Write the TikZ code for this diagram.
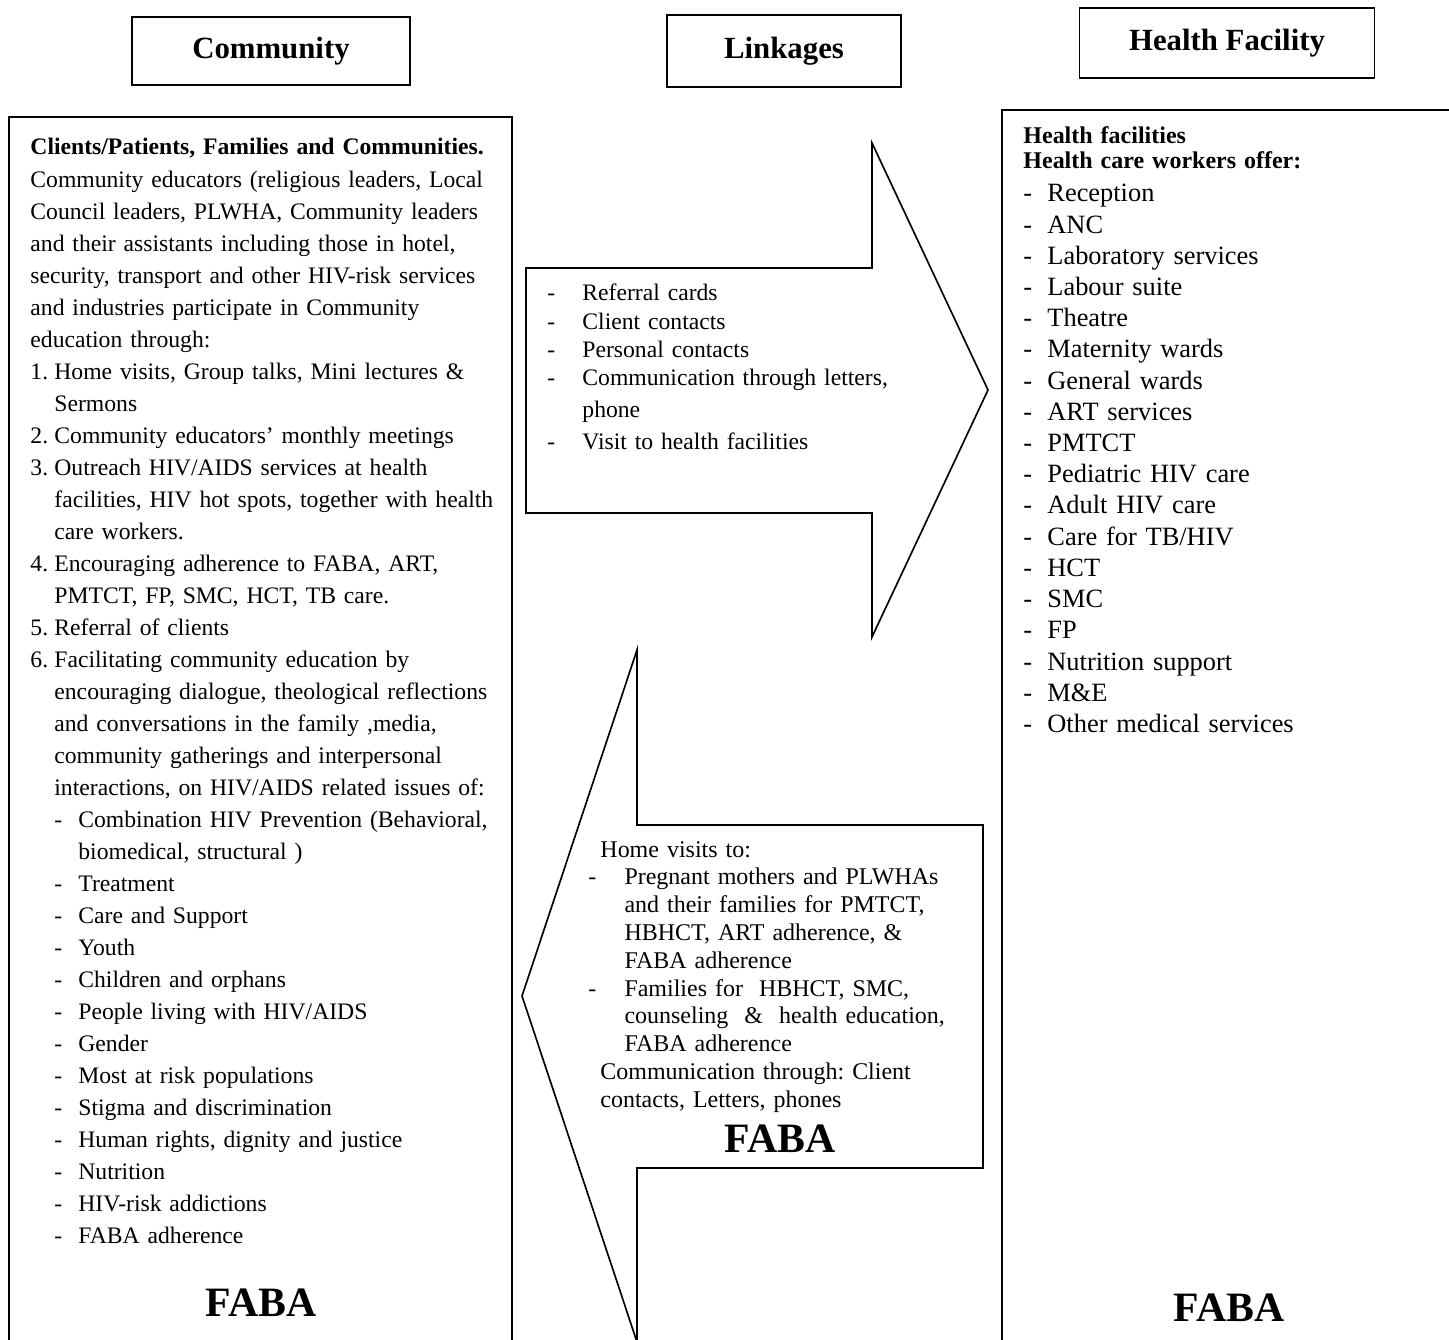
\documentclass[tikz,border=0pt]{standalone}
\usepackage{fontspec}
\setmainfont{Liberation Serif}
\frenchspacing

\newcommand{\numitem}[1]{\makebox[10.9pt][l]{#1}}
\newcommand{\issueitem}{\hspace*{10.9pt}\makebox[10.9pt][l]{-}}
\newcommand{\carry}{\hspace*{10.9pt}}

\begin{document}
\begin{tikzpicture}[x=0.4545pt,y=-0.4545pt,
    heading/.style={draw,line width=0.6pt,inner sep=0pt,font=\fontsize{14}{17}\selectfont\bfseries},
    panel/.style={draw,line width=0.9pt},
    arrowshape/.style={draw,line width=0.75pt,line join=miter},
    body/.style={inner sep=0pt,anchor=base west,align=left,text width=#1},
    faba/.style={inner sep=0pt,anchor=base,font=\fontsize{19}{22}\selectfont\bfseries}]
  \useasboundingbox (0,0) rectangle (1449,1340);

  %HEADINGS
  \node[heading,minimum width=126.4pt,minimum height=30.9pt] (community) at (271,51) {Community};
  \node[heading,minimum width=106.4pt,minimum height=32.7pt] (linkages) at (784,51) {Linkages};
  \node[heading,minimum width=134.1pt,minimum height=31.8pt] (facility) at (1227,43) {Health Facility};

  %BOXES
  \draw[panel] (9,117) rectangle (512,1360);
  \draw[panel] (1002,110) rectangle (1470,1360);

  %ARROWS
  \draw[arrowshape] (526,268) -- (872,268) -- (872,143) -- (988,390) -- (872,637) -- (872,513) -- (526,513) -- cycle;
  \draw[arrowshape] (983,825) -- (637,825) -- (637,650) -- (522,996) -- (637,1342) -- (637,1168) -- (983,1168) -- cycle;

  %COMMUNITY
  \node[body=240pt,font=\fontsize{10.75}{14.55}\selectfont] (clients) at (30,155) {%
    \textbf{Clients/Patients, Families and Communities.}\\
    Community educators (religious leaders, Local\\
    Council leaders, PLWHA, Community leaders\\
    and their assistants including those in hotel,\\
    security, transport and other HIV-risk services\\
    and industries participate in Community\\
    education through:\\
    \numitem{1.}Home visits, Group talks, Mini lectures \&\\
    \carry Sermons\\
    \numitem{2.}Community educators’ monthly meetings\\
    \numitem{3.}Outreach HIV/AIDS services at health\\
    \carry facilities, HIV hot spots, together with health\\
    \carry care workers.\\
    \numitem{4.}Encouraging adherence to FABA, ART,\\
    \carry PMTCT, FP, SMC, HCT, TB care.\\
    \numitem{5.}Referral of clients\\
    \numitem{6.}Facilitating community education by\\
    \carry encouraging dialogue, theological reflections\\
    \carry and conversations in the family ,media,\\
    \carry community gatherings and interpersonal\\
    \carry interactions, on HIV/AIDS related issues of:\\
    \issueitem Combination HIV Prevention (Behavioral,\\
    \carry\carry biomedical, structural )\\
    \issueitem Treatment\\
    \issueitem Care and Support\\
    \issueitem Youth\\
    \issueitem Children and orphans\\
    \issueitem People living with HIV/AIDS\\
    \issueitem Gender\\
    \issueitem Most at risk populations\\
    \issueitem Stigma and discrimination\\
    \issueitem Human rights, dignity and justice\\
    \issueitem Nutrition\\
    \issueitem HIV-risk addictions\\
    \issueitem FABA adherence};
  \node[faba] (faba-community) at (261,1316) {FABA};

  %LINKAGES
  \node[body=200pt,font=\fontsize{10.75}{12.86}\selectfont] (referral) at (547,301) {%
    \makebox[15.9pt][l]{-}Referral cards\\
    \makebox[15.9pt][l]{-}Client contacts\\
    \makebox[15.9pt][l]{-}Personal contacts\\
    \makebox[15.9pt][l]{-}Communication through letters,\\[1.7pt]
    \hspace*{15.9pt}phone\\[1.7pt]
    \makebox[15.9pt][l]{-}Visit to health facilities};
  \node[body=190pt,font=\fontsize{10.9}{12.64}\selectfont] (homevisits) at (588,857) {%
    \hspace*{5.45pt}Home visits to:\\
    \makebox[16.4pt][l]{-}Pregnant mothers and PLWHAs\\
    \hspace*{16.4pt}and their families for PMTCT,\\
    \hspace*{16.4pt}HBHCT, ART adherence, \&\\
    \hspace*{16.4pt}FABA adherence\\
    \makebox[16.4pt][l]{-}Families for~ HBHCT, SMC,\\
    \hspace*{16.4pt}counseling ~\&~ health education,\\
    \hspace*{16.4pt}FABA adherence\\
    \hspace*{5.45pt}Communication through: Client\\
    \hspace*{5.45pt}contacts, Letters, phones};
  \node[faba] (faba-link) at (780,1152) {FABA};

  %HEALTH FACILITY
  \node[body=180pt,font=\fontsize{10.9}{11.36}\selectfont\bfseries] (offer) at (1023,144) {Health facilities\\ Health care workers offer:};
  \foreach \svc [count=\i] in {Reception,ANC,Laboratory services,Labour suite,Theatre,Maternity wards,General wards,ART services,PMTCT,Pediatric HIV care,Adult HIV care,Care for TB/HIV,HCT,SMC,FP,Nutrition support,M\&E,Other medical services}
    \node[body=180pt,font=\fontsize{12}{14}\selectfont] (service-\i) at (1023,{202+31.2*(\i-1)}) {\makebox[10.9pt][l]{-}\svc};
  \node[faba] (faba-facility) at (1229,1321) {FABA};
\end{tikzpicture}
\end{document}
